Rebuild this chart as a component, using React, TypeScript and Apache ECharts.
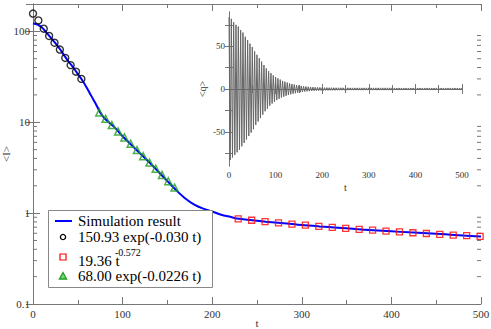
import React, { useEffect, useRef } from "react";
import * as echarts from "echarts";

// Main panel: simulation curve <I>(t)
const lineT = [0, 5, 10, 15, 20, 25, 30, 35, 40, 45, 50, 55, 60, 65, 70, 75, 80, 90, 100, 110, 120, 130, 140, 150, 160, 170, 180, 190, 200, 210, 220, 230, 240, 260, 280, 300, 320, 340, 360, 380, 400, 420, 440, 460, 480, 500];
const lineV = [122, 119, 110, 97, 85, 74, 64, 54, 46, 40, 34, 29, 24, 19.5, 16, 12.8, 11, 9.0, 7.0, 5.6, 4.5, 3.6, 2.85, 2.25, 1.78, 1.45, 1.24, 1.12, 1.04, 0.96, 0.91, 0.865, 0.845, 0.806, 0.774, 0.738, 0.713, 0.692, 0.668, 0.648, 0.63, 0.614, 0.6, 0.584, 0.566, 0.552];

// Fit markers
const circT = [0, 6, 12, 18, 24, 30, 36, 42, 48, 54];
const circV = [157, 132, 107, 89, 75, 63, 51, 42.5, 36, 30];
const triT = [74, 81, 88, 95, 102, 109, 116, 123, 130, 137, 144, 151, 158];
const triV = [12.8, 10.9, 9.3, 7.9, 6.8, 5.8, 4.94, 4.22, 3.6, 3.08, 2.63, 2.24, 1.91];
const sqT = [229, 244, 259, 274, 289, 304, 319, 334, 349, 364, 379, 394, 409, 424, 439, 454, 469, 484, 499];
const sqV = [0.865, 0.835, 0.806, 0.781, 0.758, 0.736, 0.716, 0.697, 0.68, 0.664, 0.649, 0.634, 0.621, 0.608, 0.597, 0.585, 0.574, 0.564, 0.554];

// Log-axis minor tick values
const yMinor = [0.2, 0.3, 0.4, 0.5, 0.6, 0.7, 0.8, 0.9, 2, 3, 4, 5, 6, 7, 8, 9, 20, 30, 40, 50, 60, 70, 80, 90];

// Inset <q>(t): oscillation peak amplitudes every 2.5 time units (sign alternates)
const qStep = 2.5;
const qAmp = [
  84, 83, 82, 80, 78, 77, 75, 74, 73, 71, 69, 67, 66, 63, 61, 59, 57, 55, 53, 51, 49,
  47, 44, 42, 40, 38, 36, 34, 32, 30, 28, 26, 24, 23, 21, 19.5, 18.5, 17, 16, 15, 14,
  13, 12.5, 11.5, 11, 10, 9.5, 9, 8.5, 8, 7.5, 7, 6.5, 6.2, 5.8, 5.5, 5.2, 4.9, 4.6, 4.3, 4.1,
  3.9, 3.6, 3.4, 3.2, 3.0, 2.9, 2.7, 2.6, 2.5, 2.4, 2.3, 2.2, 2.1, 2.0, 1.9, 1.9, 1.8, 1.8, 1.7, 1.7,
  1.7, 1.6, 1.6, 1.6, 1.6, 1.5, 1.5, 1.5, 1.5, 1.5, 1.5, 1.4, 1.4, 1.4, 1.4, 1.4, 1.4, 1.4, 1.4, 1.4,
  1.4, 1.4, 1.3, 1.3, 1.3, 1.3, 1.3, 1.3, 1.3, 1.3, 1.3, 1.3, 1.3, 1.3, 1.3, 1.3, 1.3, 1.3, 1.3, 1.3,
  1.3, 1.3, 1.3, 1.3, 1.3, 1.3, 1.3, 1.3, 1.3, 1.3, 1.3, 1.3, 1.3, 1.3, 1.3, 1.3, 1.3, 1.3, 1.3, 1.3,
  1.2, 1.2, 1.2, 1.2, 1.2, 1.2, 1.2, 1.2, 1.2, 1.2, 1.2, 1.2, 1.2, 1.2, 1.2, 1.2, 1.2, 1.2, 1.2, 1.2,
  1.2, 1.2, 1.2, 1.2, 1.2, 1.2, 1.2, 1.2, 1.2, 1.2, 1.2, 1.2, 1.2, 1.2, 1.2, 1.2, 1.2, 1.2, 1.2, 1.2,
  1.2, 1.2, 1.2, 1.2, 1.2, 1.2, 1.2, 1.2, 1.2, 1.2, 1.2, 1.2, 1.2, 1.2, 1.2, 1.2, 1.2, 1.2, 1.2, 1.2,
];
const qLabelTicks = [-50, 0, 50];
const qTicks = [-75, -50, -25, 0, 25, 50, 75];

const legendLabels = ["Simulation result", "150.93 exp(-0.030 t)", "19.36 t", "-0.572", "68.00 exp(-0.0226 t)"];

const SERIF = "Liberation Serif";
const AX = "#777";
const LBL = "#333";

export default function App() {
  const ref = useRef<HTMLDivElement>(null);
  useEffect(() => {
    if (!ref.current) return;
    const chart = echarts.init(ref.current, undefined, { renderer: "svg" });

    const axLine = { show: true, lineStyle: { color: AX, width: 1 } };
    const lblStyle = (size: number) => ({ color: LBL, fontFamily: SERIF, fontSize: size, fontWeight: "normal" as const });
    const mainX = (pos: string, labels: boolean) => ({
      type: "value",
      gridIndex: 0,
      position: pos,
      min: 0,
      max: 500,
      interval: 100,
      axisLine: axLine,
      axisTick: { show: true, inside: true, length: 7, lineStyle: { color: AX } },
      minorTick: { show: true, splitNumber: 2, length: 4, lineStyle: { color: AX } },
      axisLabel: { show: labels, ...lblStyle(11), margin: 4 },
      splitLine: { show: false },
      minorSplitLine: { show: false },
      name: labels ? "t" : "",
      nameLocation: "middle",
      nameGap: 13,
      nameMoveOverlap: false,
      nameTextStyle: lblStyle(11),
    });
    const mainY = (pos: string, labels: boolean) => ({
      type: "log",
      logBase: 10,
      gridIndex: 0,
      position: pos,
      min: 0.1,
      max: 200,
      axisLine: axLine,
      axisTick: { show: true, inside: true, length: 7, lineStyle: { color: AX } },
      axisLabel: {
        show: labels,
        ...lblStyle(11),
        margin: 3,
        showMaxLabel: false,
        formatter: (v: number) => (v < 1 ? String(Math.round(v * 10) / 10) : String(Math.round(v))),
      },
      splitLine: { show: false },
      name: labels ? "<I>" : "",
      nameLocation: "middle",
      nameRotate: 90,
      nameGap: 22,
      nameMoveOverlap: false,
      nameTextStyle: lblStyle(11),
    });
    const insetX = (pos: string, labels: boolean) => ({
      type: "value",
      gridIndex: 1,
      position: pos,
      min: 0,
      max: 500,
      interval: 100,
      axisLine: axLine,
      axisTick: { show: true, inside: true, length: 5, lineStyle: { color: AX } },
      minorTick: { show: true, splitNumber: 2, length: 4, lineStyle: { color: AX } },
      axisLabel: { show: labels, ...lblStyle(9), margin: 4 },
      splitLine: { show: false },
      name: labels ? "t" : "",
      nameLocation: "middle",
      nameGap: 16,
      nameMoveOverlap: false,
      nameTextStyle: lblStyle(10),
    });
    const insetY = (pos: string, labels: boolean) => ({
      type: "value",
      gridIndex: 1,
      position: pos,
      min: -90,
      max: 90,
      axisLine: axLine,
      axisTick: { show: true, inside: true, length: 4, customValues: qTicks, lineStyle: { color: AX } },
      axisLabel: { show: labels, ...lblStyle(9), margin: 4, customValues: qLabelTicks },
      splitLine: { show: false },
      name: labels ? "<q>" : "",
      nameLocation: "middle",
      nameRotate: 90,
      nameGap: 22,
      nameMoveOverlap: false,
      nameTextStyle: lblStyle(10),
    });

    const qData = qAmp.map((a, i) => [i * qStep, i % 2 === 0 ? a : -a]);

    const lx = 63;
    const tx = 78;
    const legendFont = "15px " + SERIF;
    const graphic = [
      {
        type: "group",
        z: 100,
        children: [
          { type: "rect", z: 100, shape: { x: 48.5, y: 210.5, width: 164, height: 77 }, style: { fill: "#fff", stroke: "#888", lineWidth: 1 } },
          { type: "line", z: 101, shape: { x1: 55, y1: 221, x2: 72, y2: 221 }, style: { stroke: "#0000ff", lineWidth: 2 } },
          { type: "text", z: 101, x: tx, y: 221, style: { text: legendLabels[0], font: legendFont, fill: "#000", verticalAlign: "middle", align: "left" } },
          { type: "circle", z: 101, shape: { cx: lx, cy: 237, r: 2.6 }, style: { fill: "none", stroke: "#000", lineWidth: 1.3 } },
          { type: "text", z: 101, x: tx, y: 237, style: { text: legendLabels[1], font: legendFont, fill: "#000", verticalAlign: "middle", align: "left" } },
          { type: "rect", z: 101, shape: { x: lx - 3, y: 254, width: 6, height: 6 }, style: { fill: "none", stroke: "#ff0000", lineWidth: 1.2 } },
          { type: "text", z: 101, x: tx, y: 261, style: { text: legendLabels[2], font: legendFont, fill: "#000", verticalAlign: "middle", align: "left" } },
          { type: "text", z: 101, x: 115, y: 252, style: { text: legendLabels[3], font: "10px " + SERIF, fill: "#000", verticalAlign: "middle", align: "left" } },
          { type: "polygon", z: 101, shape: { points: [[lx, 272.5], [lx - 3.6, 279], [lx + 3.6, 279]] }, style: { fill: "#7ccf7c", stroke: "#1e9e1e", lineWidth: 1.3 } },
          { type: "text", z: 101, x: tx, y: 276, style: { text: legendLabels[4], font: legendFont, fill: "#000", verticalAlign: "middle", align: "left" } },
        ],
      },
    ];

    const option: any = {
      animation: false,
      backgroundColor: "#fff",
      textStyle: { fontFamily: SERIF },
      grid: [
        { left: 33, right: 10, top: 4, bottom: 25, show: false, containLabel: false, outerBoundsMode: "none" },
        { left: 229, top: 12, width: 233, height: 154, show: true, backgroundColor: "#fff", borderWidth: 0, containLabel: false, outerBoundsMode: "none" },
      ],
      xAxis: [mainX("bottom", true), mainX("top", false), insetX("bottom", true), insetX("top", false)],
      yAxis: [mainY("left", true), mainY("right", false), insetY("left", true), insetY("right", false)],
      series: [
        {
          type: "custom",
          xAxisIndex: 0,
          yAxisIndex: 0,
          silent: true,
          clip: false,
          z: 1,
          data: yMinor.map((v) => [0, v]),
          renderItem: (_p: any, api: any) => {
            const v = api.value(1);
            const pl = api.coord([0, v]);
            const pr = api.coord([500, v]);
            return {
              type: "group",
              children: [
                { type: "line", shape: { x1: pl[0], y1: pl[1], x2: pl[0] + 4, y2: pl[1] }, style: { stroke: AX, lineWidth: 1 } },
                { type: "line", shape: { x1: pr[0], y1: pr[1], x2: pr[0] - 4, y2: pr[1] }, style: { stroke: AX, lineWidth: 1 } },
              ],
            };
          },
        },
        {
          type: "line",
          xAxisIndex: 0,
          yAxisIndex: 0,
          data: lineT.map((t, i) => [t, lineV[i]]),
          showSymbol: false,
          symbol: "none",
          smooth: 0.3,
          lineStyle: { color: "#0000ff", width: 2 },
          z: 2,
        },
        {
          type: "scatter",
          xAxisIndex: 0,
          yAxisIndex: 0,
          data: circT.map((t, i) => [t, circV[i]]),
          symbol: "circle",
          symbolSize: 7,
          itemStyle: { color: "rgba(0,0,0,0)", borderColor: "#000", borderWidth: 1.4 },
          z: 3,
        },
        {
          type: "scatter",
          xAxisIndex: 0,
          yAxisIndex: 0,
          data: triT.map((t, i) => [t, triV[i]]),
          symbol: "triangle",
          symbolSize: 7,
          itemStyle: { color: "rgba(0,0,0,0)", borderColor: "#1e9e1e", borderWidth: 1.5 },
          z: 3,
        },
        {
          type: "scatter",
          xAxisIndex: 0,
          yAxisIndex: 0,
          data: sqT.map((t, i) => [t, sqV[i]]),
          symbol: "rect",
          symbolSize: 6,
          itemStyle: { color: "rgba(0,0,0,0)", borderColor: "#ff0000", borderWidth: 1.3 },
          z: 3,
        },
        {
          type: "line",
          xAxisIndex: 2,
          yAxisIndex: 2,
          data: qData,
          symbol: "none",
          showSymbol: false,
          lineStyle: { color: "#666", width: 1 },
          z: 2,
        },
      ],
      graphic,
    };
    chart.setOption(option);
    return () => chart.dispose();
  }, []);
  return <div ref={ref} style={{ position: "fixed", left: 0, top: 0, width: 491, height: 329, background: "#fff" }} />;
}
